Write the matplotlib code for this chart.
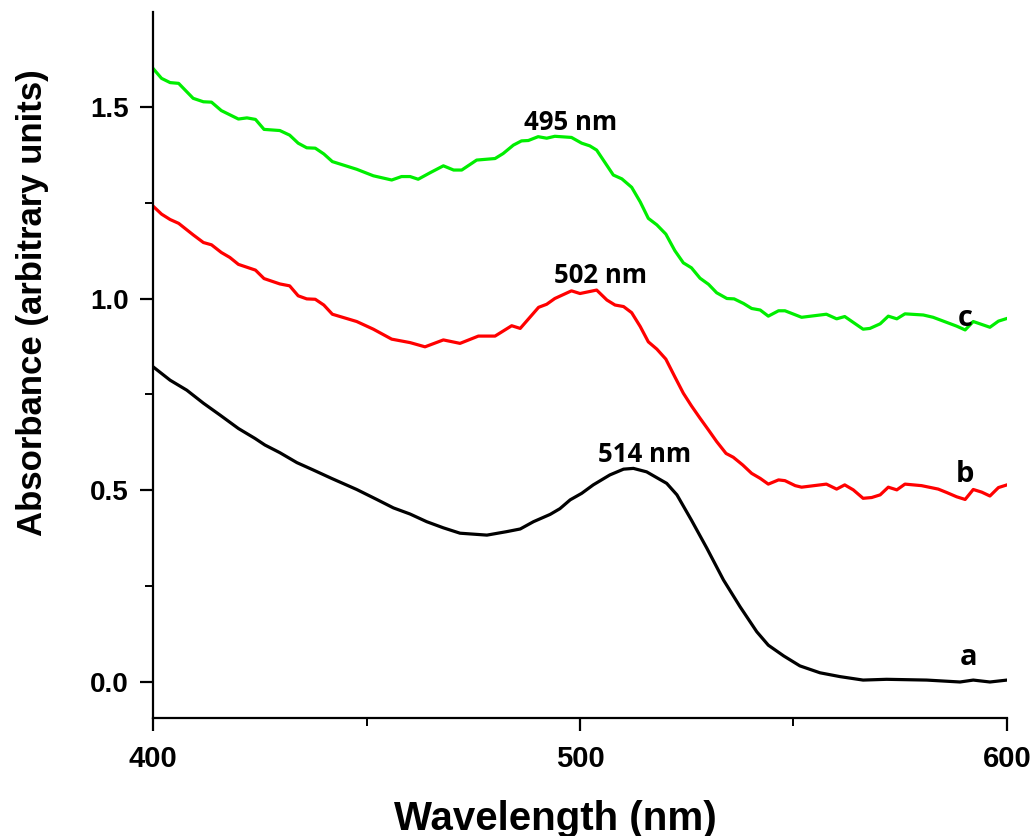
import matplotlib
matplotlib.use("Agg")
import matplotlib.pyplot as plt
from matplotlib.ticker import MultipleLocator

# curve a (black)
wl_a = [400, 404, 407.9, 411.8, 415.7, 420, 423.9, 426.2, 429.7, 433.7, 437.5, 441.8,
        447.7, 452.4, 456.3, 460.2, 464.1, 468, 471.9, 478.2, 482.8, 486, 489.1, 493,
        495.3, 497.7, 500.4, 503.1, 507, 510.2, 512.5, 515.6, 520.3, 522.7, 526.1,
        529.7, 533.6, 537.5, 541.4, 544.1, 547.7, 551.5, 556.2, 560.9, 566.3, 571.8,
        581.2, 589, 592.1, 596, 600]
abs_a = [0.822, 0.787, 0.761, 0.727, 0.696, 0.661, 0.635, 0.618, 0.598, 0.572, 0.553, 0.531,
         0.502, 0.476, 0.454, 0.438, 0.418, 0.402, 0.388, 0.383, 0.392, 0.399, 0.418, 0.437,
         0.452, 0.475, 0.492, 0.514, 0.540, 0.555, 0.557, 0.548, 0.518, 0.488, 0.422,
         0.349, 0.266, 0.196, 0.131, 0.096, 0.068, 0.042, 0.024, 0.014, 0.005, 0.007,
         0.005, 0.000, 0.005, 0.000, 0.005]

# curve b (red)
wl_b = [400, 402, 404, 406, 409.4, 411.8, 413.7, 416, 418, 420, 424, 426, 429.7, 432,
        434, 436, 438, 440, 442, 447.7, 451.6, 455.9, 460.2, 463.7, 468, 471.9, 476.2,
        480.1, 484, 486, 490.3, 492.2, 494.1, 498, 500, 503.9, 506.3, 508.2, 510.2,
        512.1, 514.1, 516, 518, 520.1, 522.2, 524.2, 526.1, 528.1, 530.1, 532, 534.2,
        535.9, 538.1, 540.2, 542.2, 544.1, 546.5, 548, 550.4, 551.9, 557.7, 560.1, 562,
        564, 566.3, 568.3, 570.3, 572.2, 574.2, 576.1, 580, 583.9, 585.9, 588.2, 590.2,
        592.1, 594.1, 596, 598, 600]
abs_b = [1.241, 1.220, 1.206, 1.196, 1.166, 1.146, 1.140, 1.120, 1.107, 1.089, 1.074, 1.052,
         1.038, 1.033, 1.007, 0.999, 0.998, 0.983, 0.959, 0.940, 0.920, 0.894, 0.885, 0.874,
         0.892, 0.883, 0.902, 0.902, 0.929, 0.922, 0.977, 0.985, 1.000, 1.020, 1.013, 1.022,
         0.996, 0.983, 0.979, 0.963, 0.927, 0.887, 0.868, 0.842, 0.796, 0.753, 0.720, 0.688,
         0.657, 0.627, 0.596, 0.586, 0.566, 0.544, 0.531, 0.516, 0.527, 0.525, 0.512, 0.508,
         0.516, 0.503, 0.514, 0.501, 0.479, 0.481, 0.488, 0.508, 0.501, 0.516, 0.512, 0.503,
         0.494, 0.483, 0.476, 0.502, 0.495, 0.485, 0.507, 0.514]

# curve c (green)
wl_c = [400, 402, 404, 406, 409.4, 411.8, 413.7, 416, 420, 422, 424, 426, 429.7, 432,
        434, 436, 438, 440, 442, 447.7, 451.6, 455.9, 458.2, 460.2, 462.1, 464.9, 468,
        470.4, 472.3, 475.8, 480.1, 482, 484.4, 486.3, 487.9, 490.2, 492.2, 494.1, 498,
        500.4, 502.3, 503.9, 507.8, 509.8, 512.1, 514.1, 516, 518, 520.1, 522.2, 524.2,
        526.1, 528.1, 530.1, 532, 534.4, 536.1, 538.3, 540.2, 542.2, 544.1, 546.5, 548,
        551.9, 557.7, 560.1, 562, 566.3, 567.9, 570.3, 572.2, 574.2, 576.1, 580.4, 582.7,
        588.2, 590.2, 592.1, 596, 598, 600]
abs_c = [1.600, 1.574, 1.563, 1.561, 1.522, 1.513, 1.512, 1.490, 1.468, 1.471, 1.467, 1.441,
         1.438, 1.426, 1.405, 1.393, 1.392, 1.377, 1.357, 1.337, 1.320, 1.309, 1.318, 1.318,
         1.311, 1.328, 1.346, 1.335, 1.335, 1.361, 1.365, 1.378, 1.400, 1.411, 1.412, 1.422,
         1.418, 1.423, 1.420, 1.405, 1.398, 1.387, 1.322, 1.312, 1.290, 1.252, 1.209, 1.192,
         1.168, 1.125, 1.093, 1.080, 1.053, 1.037, 1.015, 1.000, 0.999, 0.987, 0.974, 0.970,
         0.954, 0.968, 0.968, 0.951, 0.959, 0.947, 0.953, 0.920, 0.922, 0.934, 0.954, 0.947,
         0.960, 0.957, 0.951, 0.928, 0.918, 0.940, 0.925, 0.941, 0.948]

peak_labels = [("495 nm", 497.7, 1.458), ("502 nm", 504.7, 1.061), ("514 nm", 515.2, 0.592)]
curve_labels = [("c", 590.2, 0.949), ("b", 590.2, 0.540), ("a", 590.9, 0.063)]

label_font = ["Liberation Sans", "DejaVu Sans"]
note_font = ["Open Sans", "DejaVu Sans"]

fig = plt.figure(figsize=(10.36, 8.36), dpi=100)
ax = fig.add_axes([0.1477, 0.1411, 0.8243, 0.8445])

ax.plot(wl_a, abs_a, color="black", lw=2.3)
ax.plot(wl_b, abs_b, color="#ff0000", lw=2.3)
ax.plot(wl_c, abs_c, color="#00ee00", lw=2.3)

for txt, x, y in peak_labels:
    ax.text(x, y, txt, ha="center", va="center", fontsize=18.5, fontweight="bold",
            family=note_font)
for txt, x, y in curve_labels:
    ax.text(x, y, txt, ha="center", va="center", fontsize=21, fontweight="bold",
            family=note_font)

ax.set_xlim(400, 600)
ax.set_ylim(-0.094, 1.747)
ax.xaxis.set_major_locator(MultipleLocator(100))
ax.xaxis.set_minor_locator(MultipleLocator(50))
ax.yaxis.set_major_locator(MultipleLocator(0.5))
ax.yaxis.set_minor_locator(MultipleLocator(0.25))
ax.yaxis.set_major_formatter(plt.FuncFormatter(lambda v, p: f"{v:.1f}"))
ax.xaxis.set_major_formatter(plt.FuncFormatter(lambda v, p: f"{v:.0f}"))

for s in ["top", "right"]:
    ax.spines[s].set_visible(False)
for s in ["left", "bottom"]:
    ax.spines[s].set_linewidth(1.6)

ax.tick_params(which="major", direction="out", length=9.5, width=1.6)
ax.tick_params(which="minor", direction="out", length=5.5, width=1.4)
ax.tick_params(axis="x", pad=10)
ax.tick_params(axis="y", pad=8)

for lab in ax.get_xticklabels():
    lab.set_fontsize(21)
    lab.set_fontweight("bold")
    lab.set_family(label_font)
for lab in ax.get_yticklabels():
    lab.set_fontsize(20)
    lab.set_fontweight("bold")
    lab.set_family(label_font)

ax.set_xlabel("Wavelength (nm)", fontsize=29, fontweight="bold", family=label_font)
ax.set_ylabel("Absorbance (arbitrary units)", fontsize=25, fontweight="bold",
              family=label_font)
ax.xaxis.set_label_coords(0.471, -0.116)
ax.yaxis.set_label_coords(-0.122, 0.589)

fig.savefig("out.png", dpi=100)
